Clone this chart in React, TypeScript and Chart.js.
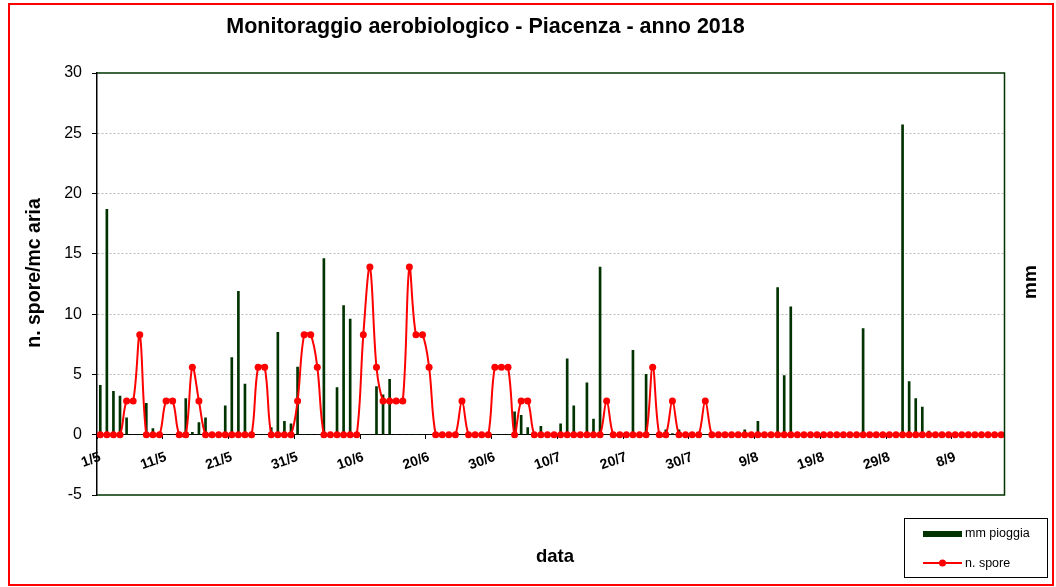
import React, { useEffect, useRef } from 'react';
import { Chart, registerables } from 'chart.js';

Chart.register(...registerables);

// ---- DATA ----
const DAY_COUNT = 138; // 1/5/2018 .. 15/9/2018
const categories: string[] = Array.from({ length: DAY_COUNT }, (_, i) => {
  const d = new Date(2018, 4, 1 + i);
  return `${d.getDate()}/${d.getMonth() + 1}`;
});

const tickLabels = ['1/5', '11/5', '21/5', '31/5', '10/6', '20/6', '30/6', '10/7', '20/7', '30/7', '9/8', '19/8', '29/8', '8/9'];

const yTicks = [-5, 0, 5, 10, 15, 20, 25, 30];

// mm pioggia (daily rainfall)
const rain: number[] = [
  4.1, 18.7, 3.6, 3.2, 1.4, 0, 0, 2.6, 0.5, 0,
  0, 0, 0, 3.0, 0.2, 1.0, 1.4, 0, 0, 2.4,
  6.4, 11.9, 4.2, 0, 0, 0, 0.6, 8.5, 1.1, 0.9,
  5.6, 0, 0, 0, 14.6, 0, 3.9, 10.7, 9.6, 0,
  0, 0, 4.0, 3.3, 4.6, 0, 0, 0, 0, 0,
  0, 0, 0, 0, 0, 0, 0, 0, 0, 0,
  0, 0, 0, 1.9, 1.6, 0.6, 0, 0.7, 0, 0,
  0.9, 6.3, 2.4, 0, 4.3, 1.3, 13.9, 0, 0, 0,
  0, 7.0, 0, 5.0, 0, 0, 0.4, 0.1, 0.4, 0,
  0, 0, 0, 0, 0, 0, 0, 0, 0.4, 0,
  1.1, 0, 0, 12.2, 4.9, 10.6, 0, 0, 0, 0,
  0, 0, 0, 0, 0, 0, 8.8, 0, 0, 0,
  0, 0, 25.7, 4.4, 3.0, 2.3, 0.3, 0, 0, 0,
  0, 0, 0, 0, 0, 0, 0, 0,
];

// n. spore (spores per m3 of air)
const spores: number[] = [
  0, 0, 0, 0, 2.8, 2.8, 8.3, 0, 0, 0,
  2.8, 2.8, 0, 0, 5.6, 2.8, 0, 0, 0, 0,
  0, 0, 0, 0, 5.6, 5.6, 0, 0, 0, 0,
  2.8, 8.3, 8.3, 5.6, 0, 0, 0, 0, 0, 0,
  8.3, 13.9, 5.6, 2.8, 2.8, 2.8, 2.8, 13.9, 8.3, 8.3,
  5.6, 0, 0, 0, 0, 2.8, 0, 0, 0, 0,
  5.6, 5.6, 5.6, 0, 2.8, 2.8, 0, 0, 0, 0,
  0, 0, 0, 0, 0, 0, 0, 2.8, 0, 0,
  0, 0, 0, 0, 5.6, 0, 0, 2.8, 0, 0,
  0, 0, 2.8, 0, 0, 0, 0, 0, 0, 0,
  0, 0, 0, 0, 0, 0, 0, 0, 0, 0,
  0, 0, 0, 0, 0, 0, 0, 0, 0, 0,
  0, 0, 0, 0, 0, 0, 0, 0, 0, 0,
  0, 0, 0, 0, 0, 0, 0, 0,
];

const TITLE = 'Monitoraggio aerobiologico - Piacenza - anno 2018';
const Y_TITLE = 'n. spore/mc aria';
const Y2_TITLE = 'mm';
const X_TITLE = 'data';
const RAIN_LABEL = 'mm pioggia';
const SPORE_LABEL = 'n. spore';

const FONT = "'Liberation Sans', Arial, sans-serif";
const GREEN = '#003300';
const RED = '#ff0000';

const decorPlugin = {
  id: 'decor',
  beforeDraw(chart: any) {
    const { ctx, width, height } = chart;
    ctx.save();
    ctx.fillStyle = '#ffffff';
    ctx.fillRect(0, 0, width, height);
    ctx.restore();
  },
  afterDraw(chart: any) {
    const { ctx, chartArea } = chart;
    ctx.save();
    // plot area border (green)
    ctx.strokeStyle = GREEN;
    ctx.lineWidth = 1.5;
    ctx.beginPath();
    ctx.moveTo(chartArea.left, chartArea.top);
    ctx.lineTo(chartArea.right, chartArea.top);
    ctx.lineTo(chartArea.right, chartArea.bottom);
    ctx.lineTo(chartArea.left, chartArea.bottom);
    ctx.stroke();

    // outer red frame
    ctx.strokeStyle = RED;
    ctx.lineWidth = 2;
    ctx.strokeRect(9, 4, 1044, 581);

    ctx.fillStyle = '#000';
    // title
    ctx.font = `bold 21.5px ${FONT}`;
    ctx.textAlign = 'center';
    ctx.textBaseline = 'alphabetic';
    ctx.fillText(TITLE, 485.5, 33);

    // x title
    ctx.font = `bold 18.5px ${FONT}`;
    ctx.fillText(X_TITLE, 555, 562);

    // y title
    ctx.save();
    ctx.translate(35, 273);
    ctx.rotate(-Math.PI / 2);
    ctx.font = `bold 19.5px ${FONT}`;
    ctx.textBaseline = 'middle';
    ctx.fillText(Y_TITLE, 0, 0);
    ctx.restore();

    // secondary title
    ctx.save();
    ctx.translate(1031, 282);
    ctx.rotate(-Math.PI / 2);
    ctx.font = `bold 19px ${FONT}`;
    ctx.textBaseline = 'middle';
    ctx.fillText(Y2_TITLE, 0, 0);
    ctx.restore();

    // legend
    ctx.strokeStyle = '#000';
    ctx.lineWidth = 1;
    ctx.strokeRect(904.5, 518.5, 143, 59);
    ctx.fillStyle = GREEN;
    ctx.fillRect(923, 531, 39, 6);
    ctx.strokeStyle = RED;
    ctx.lineWidth = 2;
    ctx.beginPath();
    ctx.moveTo(923, 563);
    ctx.lineTo(962, 563);
    ctx.stroke();
    ctx.fillStyle = RED;
    ctx.beginPath();
    ctx.arc(942.5, 563, 3.5, 0, Math.PI * 2);
    ctx.fill();
    ctx.fillStyle = '#000';
    ctx.font = `12.5px ${FONT}`;
    ctx.textAlign = 'left';
    ctx.textBaseline = 'middle';
    ctx.fillText(RAIN_LABEL, 965, 534);
    ctx.fillText(SPORE_LABEL, 965, 564);
    ctx.restore();
  },
};

export default function App() {
  const canvasRef = useRef<HTMLCanvasElement | null>(null);

  useEffect(() => {
    const canvas = canvasRef.current;
    if (!canvas) return;
    const chart = new Chart(canvas, {
      type: 'bar',
      data: {
        labels: categories,
        datasets: [
          {
            type: 'line',
            label: SPORE_LABEL,
            data: spores,
            borderColor: RED,
            backgroundColor: RED,
            borderWidth: 2,
            pointRadius: 3.5,
            pointBackgroundColor: RED,
            pointBorderColor: RED,
            pointBorderWidth: 0,
            tension: 0.35,
            order: 0,
            clip: false as any,
          } as any,
          {
            type: 'bar',
            label: RAIN_LABEL,
            data: rain,
            backgroundColor: GREEN,
            borderWidth: 0,
            barThickness: 2,
            order: 1,
          },
        ],
      },
      options: {
        responsive: false,
        animation: false,
        layout: { padding: { left: 57, right: 51.5, top: 73, bottom: 92 } },
        plugins: {
          legend: { display: false },
          title: { display: false },
          tooltip: { enabled: false },
        },
        scales: {
          x: {
            type: 'category',
            position: { y: 0 } as any,
            offset: true,
            grid: {
              offset: true,
              drawOnChartArea: false,
              drawTicks: true,
              tickLength: 4,
              color: (c: any) => {
                const lab = categories[c.index];
                return lab && tickLabels.includes(lab) ? '#000' : 'rgba(0,0,0,0)';
              },
              tickColor: (c: any) => {
                const lab = categories[c.index];
                return lab && tickLabels.includes(lab) ? '#000' : 'rgba(0,0,0,0)';
              },
            },
            border: { display: true, color: '#000', width: 1 },
            ticks: {
              autoSkip: false,
              maxRotation: 20,
              minRotation: 20,
              padding: 10,
              color: '#000',
              font: { family: FONT, size: 14, weight: 'bold' },
              callback: (_v: any, i: number) => (tickLabels.includes(categories[i]) ? categories[i] : ''),
            },
          },
          y: {
            type: 'linear',
            min: -5,
            max: 30,
            afterFit: (s: any) => {
              s.width = 40;
            },
            afterBuildTicks: (s: any) => {
              s.ticks = yTicks.map((v) => ({ value: v }));
            },
            grid: {
              color: (c: any) => {
                const v = c.tick && c.tick.value;
                return v === 0 || v === 30 || v === -5 ? 'rgba(0,0,0,0)' : '#b8b8b8';
              },
              tickColor: '#000',
              tickLength: 5,
              lineWidth: 1,
            },
            border: { display: true, color: '#000', width: 1.5, dash: [2, 2] },
            ticks: {
              padding: 10,
              color: '#000',
              font: { family: FONT, size: 16 },
              callback: (v: any) => String(v),
            },
          },
        },
      },
      plugins: [decorPlugin],
    });
    return () => chart.destroy();
  }, []);

  return (
    <div style={{ position: 'fixed', left: 0, top: 0, width: 1056, height: 587, background: '#fff' }}>
      <canvas ref={canvasRef} width={1056} height={587} style={{ display: 'block' }} />
    </div>
  );
}
